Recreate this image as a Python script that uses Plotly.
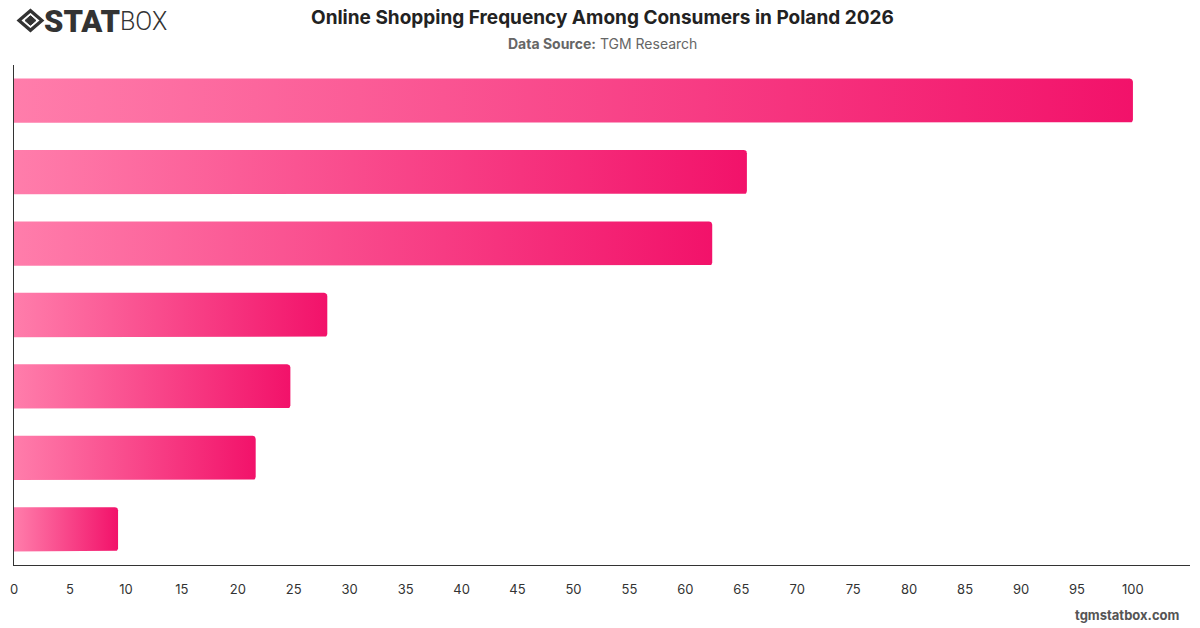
import plotly.graph_objects as go
import numpy as np

categories = ["Several times a month", "Once a month", "Several times a week",
              "Once every few months", "Once a week", "Daily", "Less often"]
values = [100, 65.5, 62.4, 28.0, 24.7, 21.6, 9.3]
tick_vals = list(range(0, 101, 5))

W, H = 1200, 628
ML, MR, MT, MB = 11, 10, 65, 63
PW, PH = W - ML - MR, H - MT - MB


def px(x):
    return (x - ML) / PW


def py(y):
    return 1 - (y - MT) / PH


BAR_HALF = 0.31
fig = go.Figure()
n = len(categories)
for i, (cat, v) in enumerate(zip(categories, values)):
    yc = n - 1 - i
    rx, ry = 0.28, 0.045
    t = np.linspace(0, np.pi / 2, 6)
    xs = [0]
    ys = [yc - BAR_HALF]
    for a in t:
        xs.append(v - rx + rx * np.sin(a))
        ys.append(yc - BAR_HALF + ry - ry * np.cos(a))
    for a in t:
        xs.append(v - rx + rx * np.cos(a))
        ys.append(yc + BAR_HALF - ry + ry * np.sin(a))
    xs.append(0)
    ys.append(yc + BAR_HALF)
    fig.add_trace(go.Scatter(
        x=xs, y=ys, fill="toself", mode="lines", line=dict(width=0),
        fillgradient=dict(type="horizontal",
                          colorscale=[[0, "#FF7DAB"], [1, "#F2126A"]]),
        name=cat, hoverinfo="text", text=f"{cat}: {v}", showlegend=False,
    ))

# logo icon (diamond outline + inner filled diamond)
cx, cy, hw, hh = 27.5, 20.5, 11.5, 9.8
outer = (f"M {px(cx-hw)} {py(cy)} L {px(cx)} {py(cy-hh)} L {px(cx+hw)} {py(cy)} "
         f"L {px(cx)} {py(cy+hh)} Z")
iw, ih = 5.5, 4.8
inner = (f"M {px(cx-iw)} {py(cy)} L {px(cx)} {py(cy-ih)} L {px(cx+iw)} {py(cy)} "
         f"L {px(cx)} {py(cy+ih)} Z")
shapes = [
    dict(type="path", path=outer, xref="paper", yref="paper",
         line=dict(color="#333", width=3.2), fillcolor="rgba(0,0,0,0)"),
    dict(type="path", path=inner, xref="paper", yref="paper",
         line=dict(color="#333", width=1), fillcolor="#333"),
]

fig.update_layout(
    width=W, height=H,
    margin=dict(l=ML, r=MR, t=MT, b=MB),
    paper_bgcolor="white", plot_bgcolor="white",
    font=dict(family="Inter, Roboto, sans-serif", color="#333"),
    shapes=shapes,
    xaxis=dict(range=[0, 105.1], tickvals=tick_vals, showgrid=False, zeroline=False,
               showline=True, linecolor="#333", linewidth=1,
               ticks="", tickfont=dict(size=13, color="#333"), ticklabelstandoff=12),
    yaxis=dict(range=[-0.5, n - 0.5], showgrid=False, zeroline=False,
               showline=True, linecolor="#333", linewidth=1,
               showticklabels=False, ticks=""),
    annotations=[
        dict(text="<b>Online Shopping Frequency Among Consumers in Poland 2026</b>",
             x=0.5, y=1, xref="paper", yref="paper", xanchor="center", yanchor="middle",
             yshift=MT - 17, showarrow=False, font=dict(size=19, color="#222")),
        dict(text="<b>Data Source:</b> TGM Research",
             x=0.5, y=1, xref="paper", yref="paper", xanchor="center", yanchor="middle",
             yshift=MT - 43, showarrow=False, font=dict(size=14, color="#666")),
        dict(text="STAT",
             x=0, y=1, xref="paper", yref="paper", xanchor="left", yanchor="middle",
             xshift=39 - ML, yshift=MT - 21, showarrow=False,
             font=dict(family="Roboto Black, Roboto, Inter", size=31, color="#333", weight=900)),
        dict(text="BOX",
             x=0, y=1, xref="paper", yref="paper", xanchor="left", yanchor="middle",
             xshift=115 - ML, yshift=MT - 21, showarrow=False,
             font=dict(family="Roboto Light, Roboto, Inter", size=25, color="#333", weight=300)),
        dict(text="<b>tgmstatbox.com</b>",
             x=1, y=0, xref="paper", yref="paper", xanchor="right", yanchor="bottom",
             xshift=-8, yshift=-60, showarrow=False, font=dict(size=13, color="#555")),
    ],
)

fig.write_html("out.html")
